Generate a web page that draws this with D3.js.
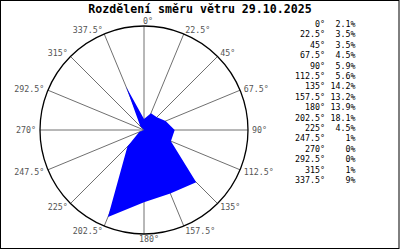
<!DOCTYPE html>
<html>
<head>
<meta charset="utf-8">
<script src="https://cdn.jsdelivr.net/npm/d3@7"></script>
<style>
body{margin:0;background:#fff}
svg text{font-family:"DejaVu Sans Mono",monospace}
</style>
</head>
<body>
<script>
var title = "Rozdělení směru větru 29.10.2025";
var directions = [0,22.5,45,67.5,90,112.5,135,157.5,180,202.5,225,247.5,270,292.5,315,337.5];
var percents = [2.1,3.5,3.5,4.5,5.9,5.6,14.2,13.2,13.9,18.1,4.5,1,0,0,1,9];
var percentLabels = ["2.1%","3.5%","3.5%","4.5%","5.9%","5.6%","14.2%","13.2%","13.9%","18.1%","4.5%","1%","0%","0%","1%","9%"];
var maxPercent = 20;

var w = 400, h = 250;
var cx = 144, cy = 130, R = 104;

var svg = d3.select("body").append("svg")
            .attr("width", w)
            .attr("height", h);

svg.append("rect")
   .attr("x",0.5).attr("y",0.5)
   .attr("width",398.5).attr("height",248)
   .attr("fill","#fff").attr("stroke","#000");

svg.append("text")
   .attr("x",200).attr("y",13)
   .attr("text-anchor","middle")
   .attr("font-size","11.6px")
   .attr("font-weight","bold")
   .text(title);

var plot = svg.append("g")
              .attr("transform","translate("+cx+","+cy+")");

var rScale = d3.scaleLinear().domain([0,maxPercent]).range([0,R]);
var toRad = function(d){ return d*Math.PI/180; };

// spokes
plot.selectAll("line.spoke")
    .data(directions)
    .enter()
    .append("line")
    .attr("class","spoke")
    .attr("x1",0).attr("y1",0)
    .attr("x2",function(d){return R*Math.sin(toRad(d))})
    .attr("y2",function(d){return -R*Math.cos(toRad(d))})
    .attr("stroke","#707070")
    .attr("stroke-width",1);

// data polygon
var line = d3.lineRadial()
             .angle(function(d,i){return toRad(directions[i])})
             .radius(function(d){return rScale(d)})
             .curve(d3.curveLinearClosed);

plot.append("path")
    .datum(percents)
    .attr("d",line)
    .attr("fill","#0000ff")
    .attr("stroke","none");

// outer circle
plot.append("circle")
    .attr("r",R)
    .attr("fill","none")
    .attr("stroke","#000")
    .attr("stroke-width",1.3);

// direction labels
plot.selectAll("text.dir")
    .data(directions)
    .enter()
    .append("text")
    .attr("class","dir")
    .attr("x",function(d){
        var s = Math.sin(toRad(d));
        if (d==0) return -1;
        if (d==180) return -5;
        return (R+4)*s;
    })
    .attr("y",function(d){return -(R+5)*Math.cos(toRad(d))+0.5})
    .attr("dy","0.35em")
    .attr("text-anchor",function(d){return d<=180 ? "start" : "end"})
    .attr("font-size","8.3px")
    .attr("fill","#555")
    .text(function(d){return d+"°"});

// legend
var legend = svg.append("g");
legend.selectAll("text.deg")
      .data(directions)
      .enter()
      .append("text")
      .attr("class","deg")
      .attr("x",325)
      .attr("y",function(d,i){return 24+i*10.4})
      .attr("dy","0.35em")
      .attr("text-anchor","end")
      .attr("font-size","8.3px")
      .attr("fill","#000")
      .text(function(d){return d+"°"});
legend.selectAll("text.pct")
      .data(percentLabels)
      .enter()
      .append("text")
      .attr("class","pct")
      .attr("x",355.5)
      .attr("y",function(d,i){return 24+i*10.4})
      .attr("dy","0.35em")
      .attr("text-anchor","end")
      .attr("font-size","8.3px")
      .attr("fill","#000")
      .text(function(d){return d});
</script>
</body>
</html>
